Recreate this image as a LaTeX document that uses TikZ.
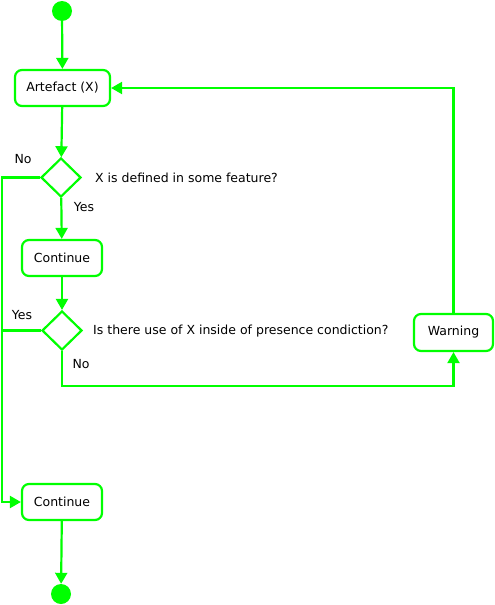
\documentclass[tikz,border=0pt]{standalone}
\usepackage{fontspec}
\setmainfont{DejaVu Sans}
\usetikzlibrary{arrows.meta,shapes.geometric}
\definecolor{fg}{RGB}{0,255,0}
\begin{document}
\begin{tikzpicture}[x=1pt,y=-1pt,
  every node/.style={font=\fontsize{12.5}{14}\selectfont},
  act/.style={draw=fg, line width=2.2pt, rounded corners=7pt, fill=white, minimum height=36pt, inner sep=0pt},
  dec/.style={diamond, draw=fg, line width=2.2pt, fill=white, minimum width=40pt, minimum height=39pt, inner sep=0pt},
  term/.style={circle, fill=fg, minimum size=20pt, inner sep=0pt},
  lbl/.style={inner sep=0pt},
  link/.style={draw=fg, line width=2.2pt},
  arr/.style={link, -{Triangle[length=11pt,width=12pt]}}
]
\useasboundingbox (0,0) rectangle (495,605);
\node[term] (start) at (62,11) {};
\node[act, minimum width=95pt] (art) at (62.5,88) {Artefact (X)};
\node[dec] (d1) at (61,177.5) {};
\node[lbl, anchor=west] (q1) at (95,178) {X is defined in some feature?};
\node[lbl] (no1) at (23,159) {No};
\node[lbl] (yes1) at (84,207) {Yes};
\node[act, minimum width=80pt] (c1) at (62,258) {Continue};
\node[dec] (d2) at (62,330.5) {};
\node[lbl, anchor=west] (q2) at (93,331) {Is there use of X inside of presence condiction?};
\node[lbl] (yes2) at (22,315) {Yes};
\node[lbl] (no2) at (81,364) {No};
\node[act, minimum width=79pt, minimum height=37pt] (warn) at (453.5,332.5) {Warning};
\node[act, minimum width=80pt] (c2) at (62,502) {Continue};
\node[term] (end) at (61,594) {};
\coordinate (lft) at (2,177.5);
\coordinate (bot) at (62,386);
\draw[arr] (start) -- (art);
\draw[arr] (art) -- (d1);
\draw[arr] (d1) -- (c1);
\draw[arr] (c1) -- (d2);
\draw[arr] (d2.south) -- (bot) -| (warn.south);
\draw[arr] (warn.north) |- (art.east);
\draw[arr] (d1.west) -- (lft) |- (c2.west);
\draw[link] (d2.west) -- (d2.west -| lft);
\draw[arr] (c2) -- (end);
\end{tikzpicture}
\end{document}
